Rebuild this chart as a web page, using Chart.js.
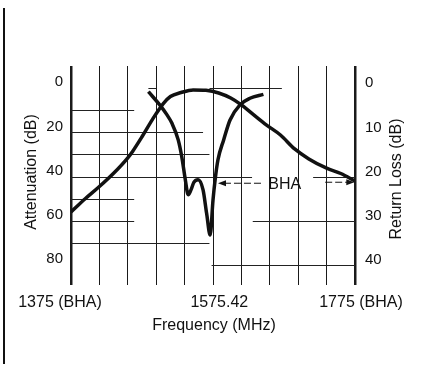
<!DOCTYPE html>
<html>
<head>
<meta charset="utf-8">
<script src="https://cdn.jsdelivr.net/npm/chart.js@4/dist/chart.umd.min.js"></script>
<style>
  html, body { margin: 0; padding: 0; background: #fff; }
  #wrap { position: relative; width: 423px; height: 373px; }
  #edge { position: absolute; left: 3px; top: 8px; width: 2px; height: 356px; background: #111; }
  canvas { position: absolute; left: 0; top: 0; }
</style>
</head>
<body>
<div id="wrap">
  <div id="edge"></div>
  <canvas id="filterChart" width="423" height="373"></canvas>
</div>
<script>
// filter passband attenuation, left axis (dB)
var attFreq = [1375, 1395, 1415, 1435, 1455, 1462, 1475, 1490, 1505, 1515, 1530, 1547, 1565, 1583, 1600, 1615, 1632, 1650, 1670, 1690, 1710, 1735, 1755, 1775];
var attDb   = [56,   50,   44.5, 38.5, 31.5, 28.5, 22,   14,   7,    3.8,  2,    0.8,  1,    2.2,  4.5,  7.6,  12,   16.6, 21.2, 27.5, 32,   36.2, 38.6, 42];

// return loss, right axis (dB)
var rlFreq = [1484, 1500, 1510, 1517, 1526, 1531, 1536, 1540, 1544, 1548, 1554, 1561, 1566, 1571, 1575, 1578, 1582, 1590, 1599, 1613, 1627, 1646];
var rlDb   = [0.8,  3.8,  6,    7.9,  11.7, 15.5, 20.7, 24.1, 23,   21.3, 20.7, 23,   28.3, 33.2, 25.3, 20.7, 16.2, 11.7, 7.2,  3.8,  2.3,  1.4];

var xTickValues = [1375, 1575.42, 1775];
var xTickLabels = ['1375 (BHA)', '1575.42', '1775 (BHA)'];
var attTicks = [0, 20, 40, 60, 80];
var rlTicks = [0, 10, 20, 30, 40];

// broken horizontal rules: [attenuation dB, from MHz, to MHz]
var gridPieces = [
  [0, 1484, 1495], [0, 1570, 1672],
  [10, 1375, 1464],
  [20, 1375, 1561],
  [30, 1375, 1570],
  [40, 1375, 1630], [40, 1716, 1775],
  [50, 1375, 1464],
  [60, 1375, 1464], [60, 1631, 1775],
  [70, 1375, 1570],
  [80, 1573, 1775]
];

// BHA band marker arrows (attenuation level, MHz spans)
var bhaLevel = 43;
var bhaLeft = [1582, 1643];
var bhaRight = [1733, 1774];
var bhaTextAt = 1676;

var FONT = '"Liberation Sans", Arial, Helvetica, sans-serif';
var INK = '#111';

function toPoints(xs, ys) {
  return xs.map(function (x, i) { return { x: x, y: ys[i] }; });
}

var extras = {
  id: 'extras',
  beforeDatasetsDraw: function (chart) {
    var c = chart.ctx, x = chart.scales.x, y = chart.scales.yAtt;
    c.save();
    c.strokeStyle = '#222';
    c.lineWidth = 1;
    gridPieces.forEach(function (p) {
      var py = Math.round(y.getPixelForValue(p[0])) + 0.5;
      c.beginPath();
      c.moveTo(x.getPixelForValue(p[1]), py);
      c.lineTo(x.getPixelForValue(p[2]), py);
      c.stroke();
    });
    c.restore();
  },
  afterDraw: function (chart) {
    var c = chart.ctx, x = chart.scales.x, y = chart.scales.yAtt, a = chart.chartArea;
    c.save();
    c.fillStyle = INK;
    c.strokeStyle = INK;

    // frequency labels under the grid
    var nudges = [-11, 6, 6];
    c.font = '16px ' + FONT;
    c.textAlign = 'center';
    c.textBaseline = 'middle';
    xTickValues.forEach(function (v, i) {
      c.fillText(xTickLabels[i], x.getPixelForValue(v) + nudges[i], a.bottom + 18);
    });

    // axis titles
    c.font = '16px ' + FONT;
    c.fillText('Frequency (MHz)', (a.left + a.right) / 2 + 1, a.bottom + 41);
    c.save();
    c.translate(32, 172);
    c.rotate(-Math.PI / 2);
    c.fillText('Attenuation (dB)', 0, 0);
    c.restore();
    c.save();
    c.translate(397, 179);
    c.rotate(-Math.PI / 2);
    c.fillText('Return Loss (dB)', 0, 0);
    c.restore();

    // BHA arrows
    var by = y.getPixelForValue(bhaLevel);
    c.lineWidth = 1;
    c.setLineDash([7, 3]);
    c.beginPath();
    c.moveTo(x.getPixelForValue(bhaLeft[0]) + 6, by);
    c.lineTo(x.getPixelForValue(bhaLeft[1]), by);
    c.moveTo(x.getPixelForValue(bhaRight[0]), by - 1);
    c.lineTo(x.getPixelForValue(bhaRight[1]) - 6, by - 1);
    c.stroke();
    c.setLineDash([]);
    var lx = x.getPixelForValue(bhaLeft[0]);
    c.beginPath();
    c.moveTo(lx, by);
    c.lineTo(lx + 8, by - 3);
    c.lineTo(lx + 8, by + 3);
    c.closePath();
    c.fill();
    var rx = x.getPixelForValue(bhaRight[1]);
    c.beginPath();
    c.moveTo(rx, by - 1);
    c.lineTo(rx - 8, by - 4);
    c.lineTo(rx - 8, by + 2);
    c.closePath();
    c.fill();
    c.font = '16px ' + FONT;
    c.fillText('BHA', x.getPixelForValue(bhaTextAt), by + 1);
    c.restore();
  }
};

var ctx = document.getElementById('filterChart').getContext('2d');
var filterChart = new Chart(ctx, {
  type: 'line',
  data: {
    datasets: [{
      label: 'Attenuation',
      data: toPoints(attFreq, attDb),
      yAxisID: 'yAtt',
      borderColor: INK,
      borderWidth: 3.5,
      pointRadius: 0,
      fill: false,
      cubicInterpolationMode: 'monotone'
    }, {
      label: 'Return Loss',
      data: toPoints(rlFreq, rlDb),
      yAxisID: 'yRl',
      borderColor: INK,
      borderWidth: 3.5,
      pointRadius: 0,
      fill: false,
      cubicInterpolationMode: 'monotone'
    }]
  },
  options: {
    responsive: false,
    animation: false,
    devicePixelRatio: 1,
    layout: { padding: { top: 66, left: 0, right: 0, bottom: 0 } },
    plugins: { legend: { display: false }, tooltip: { enabled: false } },
    scales: {
      x: {
        type: 'linear',
        min: 1375,
        max: 1775,
        ticks: { stepSize: 40, display: false },
        grid: {
          color: '#1a1a1a',
          drawTicks: false,
          lineWidth: function (context) {
            return (context.index === 0 || context.index === 10) ? 2.5 : 1;
          }
        },
        border: { display: false },
        afterFit: function (s) { s.height = 88; }
      },
      yAtt: {
        position: 'left',
        reverse: true,
        min: -10,
        max: 89,
        afterBuildTicks: function (s) { s.ticks = attTicks.map(function (v) { return { value: v }; }); },
        ticks: { color: INK, font: { family: FONT, size: 15 }, padding: 8, labelOffset: -6 },
        grid: { display: false, drawTicks: false },
        border: { display: false },
        afterFit: function (s) { s.width = 71; }
      },
      yRl: {
        position: 'right',
        reverse: true,
        min: -5,
        max: 44.5,
        afterBuildTicks: function (s) { s.ticks = rlTicks.map(function (v) { return { value: v }; }); },
        ticks: { color: INK, font: { family: FONT, size: 15 }, padding: 10, labelOffset: -5 },
        grid: { display: false, drawTicks: false },
        border: { display: false },
        afterFit: function (s) { s.width = 68; }
      }
    }
  },
  plugins: [extras]
});
</script>
</body>
</html>
